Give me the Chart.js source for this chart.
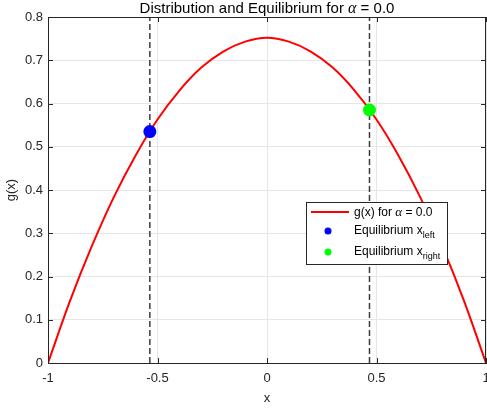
<!DOCTYPE html>
<html>
<head>
<meta charset="utf-8">
<script src="https://cdn.jsdelivr.net/npm/chart.js@4.4.0/dist/chart.umd.min.js"></script>
<style>
html, body { margin: 0; padding: 0; background: #fff; }
</style>
</head>
<body>
<canvas id="distchart" width="487" height="410"></canvas>
<script>
// values
var xValues = [-1, -0.9, -0.8, -0.7, -0.6, -0.5, -0.4, -0.3, -0.2, -0.1, 0, 0.1, 0.2, 0.3, 0.4, 0.5, 0.6, 0.7, 0.8, 0.9, 1];
var gValues = [0, 0.143, 0.27, 0.383, 0.48, 0.563, 0.63, 0.683, 0.72, 0.743, 0.752, 0.743, 0.72, 0.683, 0.63, 0.563, 0.48, 0.383, 0.27, 0.143, 0];
var eqLeft = [-0.535, 0.535];
var eqRight = [0.468, 0.585];
var yRange = [0, 0.8];
var xTickLabels = ['-1', '-0.5', '0', '0.5', '1'];
var yTickLabels = ['0', '0.1', '0.2', '0.3', '0.4', '0.5', '0.6', '0.7', '0.8'];

var axisColor = '#262626';
var fontName = '"Liberation Sans", Arial, sans-serif';

var curve = xValues.map(function (x, i) { return { x: x, y: gValues[i] }; });

// title with italic alpha, box, inward ticks and legend with subscripts
var decorations = {
    id: 'decorations',
    afterDraw: function (chart) {
        var c = chart.ctx, a = chart.chartArea;
        var sx = chart.scales.x, sy = chart.scales.y;
        c.save();

        // box + inward ticks
        c.strokeStyle = axisColor;
        c.lineWidth = 1;
        c.beginPath();
        c.moveTo(a.left, a.top + 0.5); c.lineTo(a.right, a.top + 0.5);
        c.moveTo(a.right - 0.5, a.top); c.lineTo(a.right - 0.5, a.bottom);
        sx.ticks.forEach(function (t) {
            var px = Math.round(sx.getPixelForValue(t.value)) + 0.5;
            c.moveTo(px, a.bottom); c.lineTo(px, a.bottom - 5);
            c.moveTo(px, a.top); c.lineTo(px, a.top + 5);
        });
        sy.ticks.forEach(function (t) {
            var py = Math.round(sy.getPixelForValue(t.value)) + 0.5;
            c.moveTo(a.left, py); c.lineTo(a.left + 5, py);
            c.moveTo(a.right, py); c.lineTo(a.right - 5, py);
        });
        c.stroke();

        // title
        var parts = [
            { t: 'Distribution and Equilibrium for ', f: '15px ' + fontName },
            { t: '\u03B1', f: 'italic 16px "Liberation Serif", serif' },
            { t: ' = 0.0', f: '15px ' + fontName }
        ];
        var total = 0;
        parts.forEach(function (p) { c.font = p.f; p.w = c.measureText(p.t).width; total += p.w; });
        var tx = (a.left + a.right) / 2 - total / 2;
        c.fillStyle = '#000';
        c.textBaseline = 'middle';
        parts.forEach(function (p) { c.font = p.f; c.fillText(p.t, tx, 9); tx += p.w; });

        // legend
        var lx = 306, ly = 202, lw = 141, lh = 62;
        c.fillStyle = '#fff';
        c.fillRect(lx, ly, lw, lh);
        c.strokeStyle = '#262626';
        c.strokeRect(lx + 0.5, ly + 0.5, lw, lh);

        c.strokeStyle = '#ff0000';
        c.lineWidth = 2;
        c.beginPath(); c.moveTo(311, 212); c.lineTo(349, 212); c.stroke();

        c.fillStyle = '#0000ff';
        c.beginPath(); c.arc(328, 231, 3.5, 0, Math.PI * 2); c.fill();
        c.fillStyle = '#00ff00';
        c.beginPath(); c.arc(328, 252, 3.5, 0, Math.PI * 2); c.fill();

        c.fillStyle = '#000';
        c.textBaseline = 'alphabetic';
        var x0 = 354;
        c.font = '12px ' + fontName;
        c.fillText('g(x) for ', x0, 216);
        var w1 = c.measureText('g(x) for ').width;
        c.font = 'italic 13px "Liberation Serif", serif';
        c.fillText('\u03B1', x0 + w1, 216);
        var w2 = c.measureText('\u03B1').width;
        c.font = '12px ' + fontName;
        c.fillText(' = 0.0', x0 + w1 + w2, 216);

        c.fillText('Equilibrium x', x0, 234);
        var we = c.measureText('Equilibrium x').width;
        c.fillText('Equilibrium x', x0, 255);
        c.font = '9px ' + fontName;
        c.fillText('left', x0 + we, 238);
        c.fillText('right', x0 + we, 259);

        c.restore();
    }
};

var ctx = document.getElementById('distchart').getContext('2d');
var myChart = new Chart(ctx, {
    type: 'line',
    data: {
        datasets: [{
            label: 'Equilibrium x_left',
            data: [{ x: eqLeft[0], y: eqLeft[1] }],
            showLine: false,
            pointRadius: 6.5,
            pointBackgroundColor: '#0000ff',
            pointBorderWidth: 0
        }, {
            label: 'Equilibrium x_right',
            data: [{ x: eqRight[0], y: eqRight[1] }],
            showLine: false,
            pointRadius: 6.5,
            pointBackgroundColor: '#00ff00',
            pointBorderWidth: 0
        }, {
            label: 'g(x) for \u03B1 = 0.0',
            data: curve,
            borderColor: '#ff0000',
            borderWidth: 2,
            pointRadius: 0,
            cubicInterpolationMode: 'monotone'
        }, {
            label: 'left line',
            data: [{ x: eqLeft[0], y: yRange[0] }, { x: eqLeft[0], y: yRange[1] }],
            borderColor: '#3c3c3c',
            borderWidth: 1.5,
            borderDash: [6, 3],
            pointRadius: 0
        }, {
            label: 'right line',
            data: [{ x: eqRight[0], y: yRange[0] }, { x: eqRight[0], y: yRange[1] }],
            borderColor: '#3c3c3c',
            borderWidth: 1.5,
            borderDash: [6, 3],
            pointRadius: 0
        }]
    },
    options: {
        responsive: false,
        animation: false,
        devicePixelRatio: 1,
        layout: { autoPadding: false, padding: { top: 17, right: 1, left: 0, bottom: 0 } },
        plugins: {
            legend: { display: false },
            title: { display: false },
            tooltip: { enabled: false }
        },
        scales: {
            x: {
                type: 'linear',
                min: -1,
                max: 1,
                ticks: {
                    stepSize: 0.5,
                    padding: 8,
                    color: axisColor,
                    font: { family: fontName, size: 13 },
                    callback: function (v, i) { return xTickLabels[i]; }
                },
                grid: { color: '#e6e6e6', drawTicks: false },
                border: { color: axisColor },
                title: { display: true, text: 'x', color: axisColor, font: { family: fontName, size: 13 }, padding: { top: 0, bottom: 4 } },
                afterFit: function (s) { s.height = 47; s.paddingLeft = 0; s.paddingRight = 0; }
            },
            y: {
                min: yRange[0],
                max: yRange[1],
                ticks: {
                    stepSize: 0.1,
                    padding: 5,
                    color: axisColor,
                    font: { family: fontName, size: 13 },
                    callback: function (v, i) { return yTickLabels[i]; }
                },
                grid: { color: '#e6e6e6', drawTicks: false },
                border: { color: axisColor },
                title: { display: true, text: 'g(x)', color: axisColor, font: { family: fontName, size: 13 }, padding: { top: 4, bottom: 0 } },
                afterFit: function (s) { s.width = 48; s.paddingTop = 0; s.paddingBottom = 0; }
            }
        }
    },
    plugins: [decorations]
});
</script>
</body>
</html>
